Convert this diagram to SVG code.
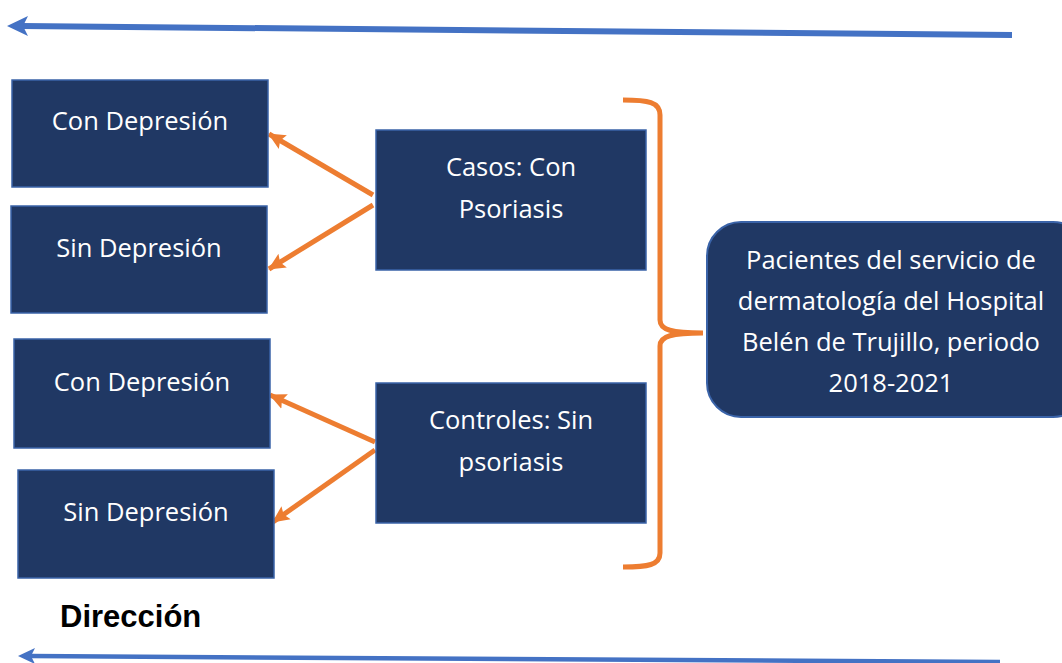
<svg xmlns="http://www.w3.org/2000/svg" width="1062" height="663" viewBox="0 0 1062 663">
<defs>
<style>
.box{fill:#203864;stroke:#3A63A8;stroke-width:1.5}
.t{font-family:"Open Sans","Noto Sans",sans-serif;font-size:25.5px;fill:#ffffff;text-anchor:middle}
.or{stroke:#ED7D31;stroke-width:5;fill:none}
.bl{stroke:#4472C4;fill:none}
.bh{fill:#4472C4}
</style>
<marker id="oa" markerWidth="18" markerHeight="18" refX="16" refY="9" orient="auto" markerUnits="userSpaceOnUse">
<path d="M0,1 L17,9 L0,17 L3,9 Z" fill="#ED7D31"/>
</marker>
</defs>
<rect width="1062" height="663" fill="#ffffff"/>

<g id="connectors">
<line class="bl" x1="1012" y1="35" x2="22" y2="26" stroke-width="6"/>
<polygon class="bh" points="7,26 28,16 23,26 28,36"/>
<line class="bl" x1="1000" y1="662" x2="30" y2="656" stroke-width="4.5"/>
<polygon class="bh" points="18,656 35,648 31,656 35,664"/>
<line class="or" x1="373" y1="195" x2="269" y2="134" marker-end="url(#oa)"/>
<line class="or" x1="373" y1="205" x2="269" y2="269" marker-end="url(#oa)"/>
<line class="or" x1="375" y1="442" x2="270" y2="395" marker-end="url(#oa)"/>
<line class="or" x1="375" y1="450" x2="273" y2="522" marker-end="url(#oa)"/>
<path class="or" stroke-width="4" d="M623,100 C648,100 660,102 660,115 L660,320 C660,330 672,333 703,333 C672,333 660,336 660,346 L660,553 C660,565 648,567 623,567"/>
</g>

<g id="n1"><rect class="box" x="12" y="80" width="256" height="107"/><text class="t" x="140" y="130">Con Depresión</text></g>
<g id="n2"><rect class="box" x="11" y="206" width="256" height="107"/><text class="t" x="139" y="257">Sin Depresión</text></g>
<g id="n3"><rect class="box" x="14" y="339" width="256" height="109"/><text class="t" x="142" y="391">Con Depresión</text></g>
<g id="n4"><rect class="box" x="18" y="470" width="256" height="108"/><text class="t" x="146" y="521">Sin Depresión</text></g>
<g id="casos"><rect class="box" x="376" y="130" width="270" height="140"/><text class="t" x="511" y="176">Casos: Con</text><text class="t" x="511" y="218">Psoriasis</text></g>
<g id="controles"><rect class="box" x="376" y="383" width="270" height="140"/><text class="t" x="511" y="429">Controles: Sin</text><text class="t" x="511" y="471">psoriasis</text></g>
<g id="pacientes"><rect x="707" y="222" width="380" height="195" rx="34" ry="34" fill="#203864" stroke="#3A63A8" stroke-width="2"/>
<text class="t" x="891" y="269">Pacientes del servicio de</text>
<text class="t" x="891" y="310">dermatología del Hospital</text>
<text class="t" x="891" y="351">Belén de Trujillo, periodo</text>
<text class="t" x="891" y="392">2018-2021</text></g>
<g id="direccion"><text x="60" y="627" font-family="Liberation Sans, Arial, sans-serif" font-weight="bold" font-size="31" fill="#000000">Dirección</text></g>
</svg>
